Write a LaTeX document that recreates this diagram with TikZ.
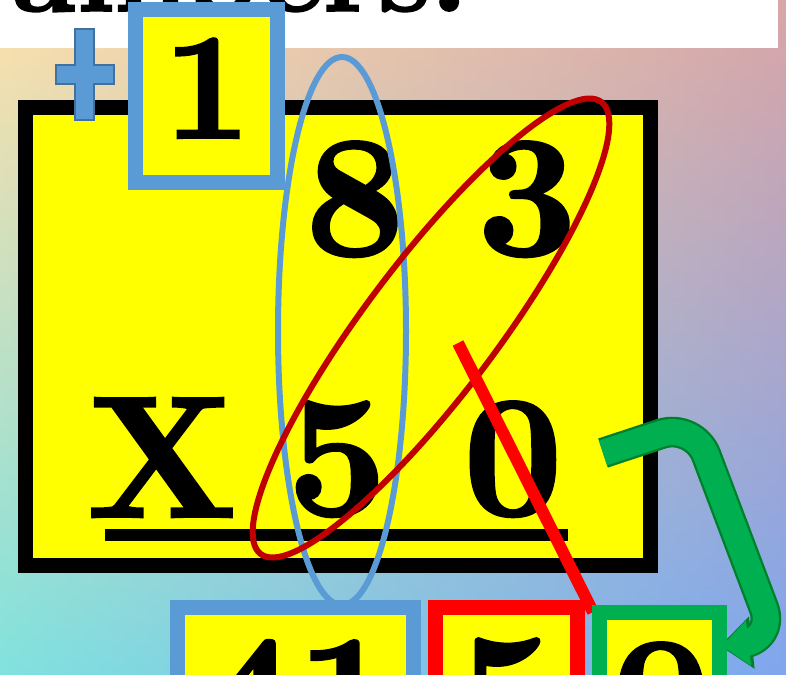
\documentclass[tikz,border=0pt]{standalone}
\usepackage{fontspec}
\usetikzlibrary{arrows.meta,shadings}

\newfontfamily\heavyfont{lmroman10-bold}[Extension=.otf, FakeBold=1.6]

\definecolor{bgpeach}{HTML}{FFDFAA}
\definecolor{bgrose}{HTML}{D9A6A6}
\definecolor{bgcyan}{HTML}{80E2DE}
\definecolor{bgblue}{HTML}{7FA6EE}
\definecolor{boxyellow}{RGB}{255,255,0}
\definecolor{boxblue}{HTML}{5B9BD5}
\definecolor{plusline}{HTML}{41719C}
\definecolor{ovalred}{HTML}{C00000}
\definecolor{arrowgreen}{HTML}{00B050}
\definecolor{arrowdark}{HTML}{00802B}

\begin{document}
\begin{tikzpicture}[x=0.75pt, y=-0.75pt, >=Triangle,
  digit/.style={inner sep=0pt, anchor=base, font=\fontsize{130}{130}\selectfont\heavyfont},
  smalldigit/.style={inner sep=0pt, anchor=base, font=\fontsize{114}{114}\selectfont\heavyfont},
  framebox/.style={line width=11.25pt, fill=boxyellow}]

  % 1. Fond en degrade et cadre de la page
  \useasboundingbox (0,0) rectangle (786,675);
  \clip (0,0) rectangle (786,675);
  \shade[upper left=bgpeach, upper right=bgrose, lower left=bgcyan, lower right=bgblue]
    (0,0) rectangle (786,675);

  % 2. Bandeau du titre (coupe en haut)
  \fill[white] (-5,-5) rectangle (778,48);
  \node[inner sep=0pt, anchor=base east, font=\fontsize{87}{87}\selectfont\heavyfont]
    (titre) at (468,11) {Numbers:};

  % 3. Cadre jaune de la multiplication
  \draw[framebox, draw=black] (25.5,107.5) rectangle (650,565);
  \node[digit] (huit) at (355,255) {8};
  \node[digit] (trois) at (527,255) {3};
  \node[digit] (fois) at (162,517) {X};
  \node[digit] (cinq) at (337,515) {5};
  \node[digit] (zero) at (513,515) {0};
  \draw[line width=9pt] (105,535) -- (568,535);

  % 4. Ovales : dizaines (bleu) et croisement (rouge)
  \draw[boxblue, line width=4.5pt] (342,331) ellipse [x radius=64, y radius=274];
  \draw[ovalred, line width=4.5pt, rotate around={53:(431,328)}]
    (431,328) ellipse [x radius=283, y radius=66];

  % Trait des unites
  \draw[red, line width=9pt] (458,343) -- (593,612);

  % 5. Fleche verte vers le chiffre des unites
  \draw[arrowdark, line width=23pt, rounded corners=26pt, -{Triangle[width=38pt,length=24pt]}]
    (603,453) -- (694,423) -- (776,640) -- (720,646);
  \draw[arrowgreen, line width=19.5pt, rounded corners=26pt, -{Triangle[width=33pt,length=20pt]}]
    (603,453) -- (694,423) -- (776,640) -- (722,646);

  % 6. Retenue : signe plus et case du 1
  \draw[plusline, fill=boxblue, line width=1.2pt]
    (75,29) -- (94,29) -- (94,65) -- (114,65) -- (114,84) -- (94,84) -- (94,120)
    -- (75,120) -- (75,84) -- (56,84) -- (56,65) -- (75,65) -- cycle;
  \draw[framebox, draw=boxblue] (135.5,9.5) rectangle (277.5,182.5);
  \node[smalldigit] (retenue) at (207,138) {1};

  % 7. Cases du resultat (coupees en bas)
  \draw[framebox, draw=boxblue] (177.5,607.5) rectangle (413,720);
  \draw[framebox, draw=red] (435.5,607.5) rectangle (577.5,720);
  \draw[framebox, draw=arrowgreen] (599.5,612.5) rectangle (719.5,720);
  \node[digit] (quaranteun) at (297,754) {41};
  \node[digit] (cinqres) at (507,752) {5};
  \node[digit] (zerores) at (661,756) {0};

\end{tikzpicture}
\end{document}
